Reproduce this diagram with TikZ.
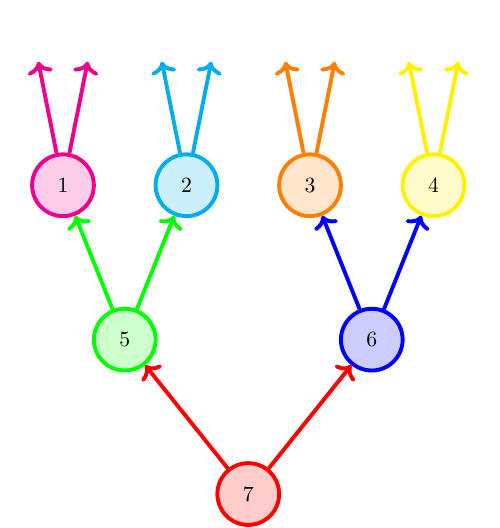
\documentclass[tikz,border=0pt]{standalone}
\usetikzlibrary{arrows.meta,positioning}

\begin{document}
\begin{tikzpicture}[>=To,
  treenode/.style={circle,minimum size=1cm,inner sep=0pt,line width=1.8pt},
  edge/.style={->,line width=1.8pt}]
  \useasboundingbox (-4.02,-0.55) rectangle (4.07,8.0);

  % 根节点
  \node[treenode,draw=red,fill=red!20] (n7) at (0,0) {7};

  % 中间层
  \node[treenode,draw=green,fill=green!20] (n5) at (-2,2.5) {5};
  \node[treenode,draw=blue,fill=blue!20] (n6) at (2,2.5) {6};

  % 叶子层
  \node[treenode,draw=magenta,fill=magenta!20] (n1) at (-3,5) {1};
  \node[treenode,draw=cyan,fill=cyan!20] (n2) at (-1,5) {2};
  \node[treenode,draw=orange,fill=orange!20] (n3) at (1,5) {3};
  \node[treenode,draw=yellow,fill=yellow!20] (n4) at (3,5) {4};

  % 叶子上方的出口
  \coordinate (o1a) at (-3.4,7);
  \coordinate (o1b) at (-2.6,7);
  \coordinate (o2a) at (-1.4,7);
  \coordinate (o2b) at (-0.6,7);
  \coordinate (o3a) at (0.6,7);
  \coordinate (o3b) at (1.4,7);
  \coordinate (o4a) at (2.6,7);
  \coordinate (o4b) at (3.4,7);

  % 父子连线
  \draw[edge,red] (n7) -- (n5);
  \draw[edge,red] (n7) -- (n6);
  \draw[edge,green] (n5) -- (n1);
  \draw[edge,green] (n5) -- (n2);
  \draw[edge,blue] (n6) -- (n3);
  \draw[edge,blue] (n6) -- (n4);

  % 向上的箭头
  \draw[edge,magenta] (n1) -- (o1a);
  \draw[edge,magenta] (n1) -- (o1b);
  \draw[edge,cyan] (n2) -- (o2a);
  \draw[edge,cyan] (n2) -- (o2b);
  \draw[edge,orange] (n3) -- (o3a);
  \draw[edge,orange] (n3) -- (o3b);
  \draw[edge,yellow] (n4) -- (o4a);
  \draw[edge,yellow] (n4) -- (o4b);
\end{tikzpicture}
\end{document}
